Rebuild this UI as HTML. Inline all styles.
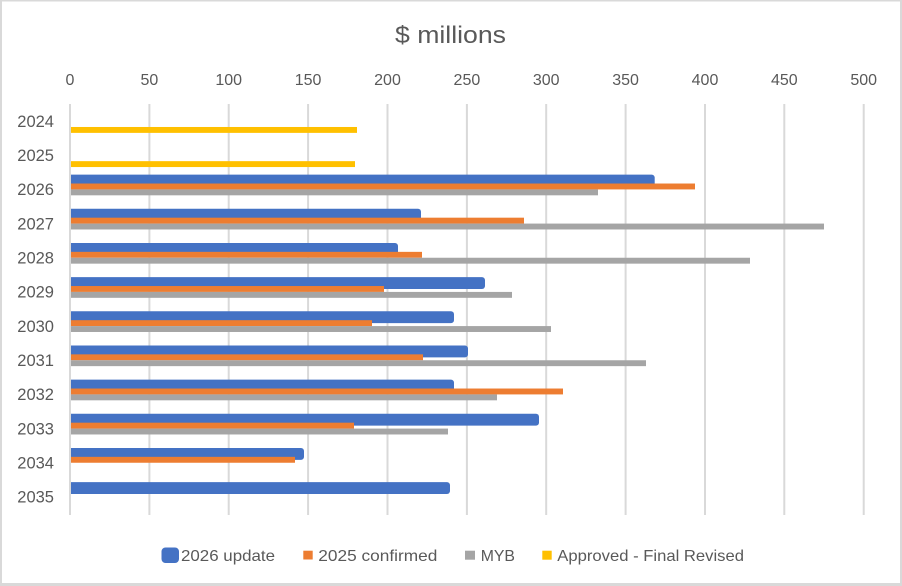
<!DOCTYPE html>
<html>
<head>
<meta charset="utf-8">
<style>
html,body{margin:0;padding:0;background:#fff;}
svg{display:block;}
text{font-family:"Liberation Sans",Arial,sans-serif;fill:#595959;}
</style>
</head>
<body>
<svg width="902" height="586" viewBox="0 0 902 586" xmlns="http://www.w3.org/2000/svg">
  <rect x="0" y="0" width="902" height="586" fill="#fff"/>
  <!-- border -->
  <rect x="0" y="0" width="902" height="1.5" fill="#d9d9d9"/>
  <rect x="0" y="0" width="2" height="586" fill="#d9d9d9"/>
  <rect x="900" y="0" width="2" height="586" fill="#d9d9d9"/>
  <rect x="0" y="583" width="902" height="3" fill="#d9d9d9"/>

  <!-- title -->
  <text x="450.5" y="43" font-size="24" text-anchor="middle" textLength="111" lengthAdjust="spacingAndGlyphs">$ millions</text>

  <!-- gridlines -->
  <g stroke="#d9d9d9" stroke-width="2">
    <line x1="70" y1="104" x2="70" y2="515"/>
    <line x1="149.4" y1="104" x2="149.4" y2="515"/>
    <line x1="228.7" y1="104" x2="228.7" y2="515"/>
    <line x1="308.1" y1="104" x2="308.1" y2="515"/>
    <line x1="387.5" y1="104" x2="387.5" y2="515"/>
    <line x1="466.9" y1="104" x2="466.9" y2="515"/>
    <line x1="546.2" y1="104" x2="546.2" y2="515"/>
    <line x1="625.6" y1="104" x2="625.6" y2="515"/>
    <line x1="705" y1="104" x2="705" y2="515"/>
    <line x1="784.3" y1="104" x2="784.3" y2="515"/>
    <line x1="863.7" y1="104" x2="863.7" y2="515"/>
  </g>

  <!-- tick labels -->
  <g font-size="16" text-anchor="middle">
    <text x="70" y="85">0</text>
    <text x="149.4" y="85">50</text>
    <text x="228.7" y="85">100</text>
    <text x="308.1" y="85">150</text>
    <text x="387.5" y="85">200</text>
    <text x="466.9" y="85">250</text>
    <text x="546.2" y="85">300</text>
    <text x="625.6" y="85">350</text>
    <text x="705" y="85">400</text>
    <text x="784.3" y="85">450</text>
    <text x="863.7" y="85">500</text>
  </g>

  <!-- category labels -->
  <g font-size="16.5" text-anchor="end">
    <text x="54" y="126.8">2024</text>
    <text x="54" y="161">2025</text>
    <text x="54" y="195.1">2026</text>
    <text x="54" y="229.3">2027</text>
    <text x="54" y="263.5">2028</text>
    <text x="54" y="297.6">2029</text>
    <text x="54" y="331.8">2030</text>
    <text x="54" y="366">2031</text>
    <text x="54" y="400.1">2032</text>
    <text x="54" y="434.3">2033</text>
    <text x="54" y="468.5">2034</text>
    <text x="54" y="502.6">2035</text>
  </g>

  <defs>
    <clipPath id="pc"><rect x="71" y="100" width="830" height="420"/></clipPath>
  </defs>

  <g clip-path="url(#pc)">
    <!-- 2026 update (blue, thick rounded outline) -->
    <g fill="#4472C4" stroke="#4472C4" stroke-width="6" stroke-linejoin="round">
      <rect x="71" y="177.62" width="580.7" height="5.9"/>
      <rect x="71" y="211.78" width="347" height="5.9"/>
      <rect x="71" y="245.95" width="324" height="5.9"/>
      <rect x="71" y="280.12" width="411" height="5.9"/>
      <rect x="71" y="314.28" width="380" height="5.9"/>
      <rect x="71" y="348.45" width="394" height="5.9"/>
      <rect x="71" y="382.62" width="380" height="5.9"/>
      <rect x="71" y="416.78" width="465" height="5.9"/>
      <rect x="71" y="450.95" width="230" height="5.9"/>
      <rect x="71" y="485.12" width="376" height="5.9"/>
    </g>
    <!-- 2025 confirmed (orange) -->
    <g fill="#ED7D31">
      <rect x="71" y="183.52" width="624" height="5.9"/>
      <rect x="71" y="217.68" width="453" height="5.9"/>
      <rect x="71" y="251.85" width="351" height="5.9"/>
      <rect x="71" y="286.02" width="313" height="5.9"/>
      <rect x="71" y="320.18" width="301" height="5.9"/>
      <rect x="71" y="354.35" width="352" height="5.9"/>
      <rect x="71" y="388.52" width="492" height="5.9"/>
      <rect x="71" y="422.68" width="283" height="5.9"/>
      <rect x="71" y="456.85" width="224" height="5.9"/>
    </g>
    <!-- MYB (gray) -->
    <g fill="#A5A5A5">
      <rect x="71" y="189.42" width="527" height="5.9"/>
      <rect x="71" y="223.58" width="753" height="5.9"/>
      <rect x="71" y="257.75" width="679" height="5.9"/>
      <rect x="71" y="291.92" width="441" height="5.9"/>
      <rect x="71" y="326.08" width="480" height="5.9"/>
      <rect x="71" y="360.25" width="575" height="5.9"/>
      <rect x="71" y="394.42" width="426" height="5.9"/>
      <rect x="71" y="428.58" width="377" height="5.9"/>
    </g>
    <!-- Approved - Final Revised (yellow) -->
    <g fill="#FFC000">
      <rect x="71" y="126.98" width="286" height="5.9"/>
      <rect x="71" y="161.15" width="284" height="5.9"/>
    </g>
  </g>

  <!-- legend -->
  <rect x="162.5" y="548.5" width="15.5" height="13.5" rx="3" ry="3" fill="#4472C4" stroke="#4472C4" stroke-width="2"/>
  <text x="181" y="561" font-size="16" textLength="94" lengthAdjust="spacingAndGlyphs">2026 update</text>
  <rect x="303.3" y="550.7" width="9.4" height="8.8" fill="#ED7D31"/>
  <text x="318.3" y="561" font-size="16" textLength="119" lengthAdjust="spacingAndGlyphs">2025 confirmed</text>
  <rect x="465" y="550.7" width="10" height="9" fill="#A5A5A5"/>
  <text x="480.7" y="561" font-size="16" textLength="34.3" lengthAdjust="spacingAndGlyphs">MYB</text>
  <rect x="542.3" y="550.7" width="9.4" height="9" fill="#FFC000"/>
  <text x="557.3" y="561" font-size="16" textLength="186.7" lengthAdjust="spacingAndGlyphs">Approved - Final Revised</text>
</svg>
</body>
</html>
